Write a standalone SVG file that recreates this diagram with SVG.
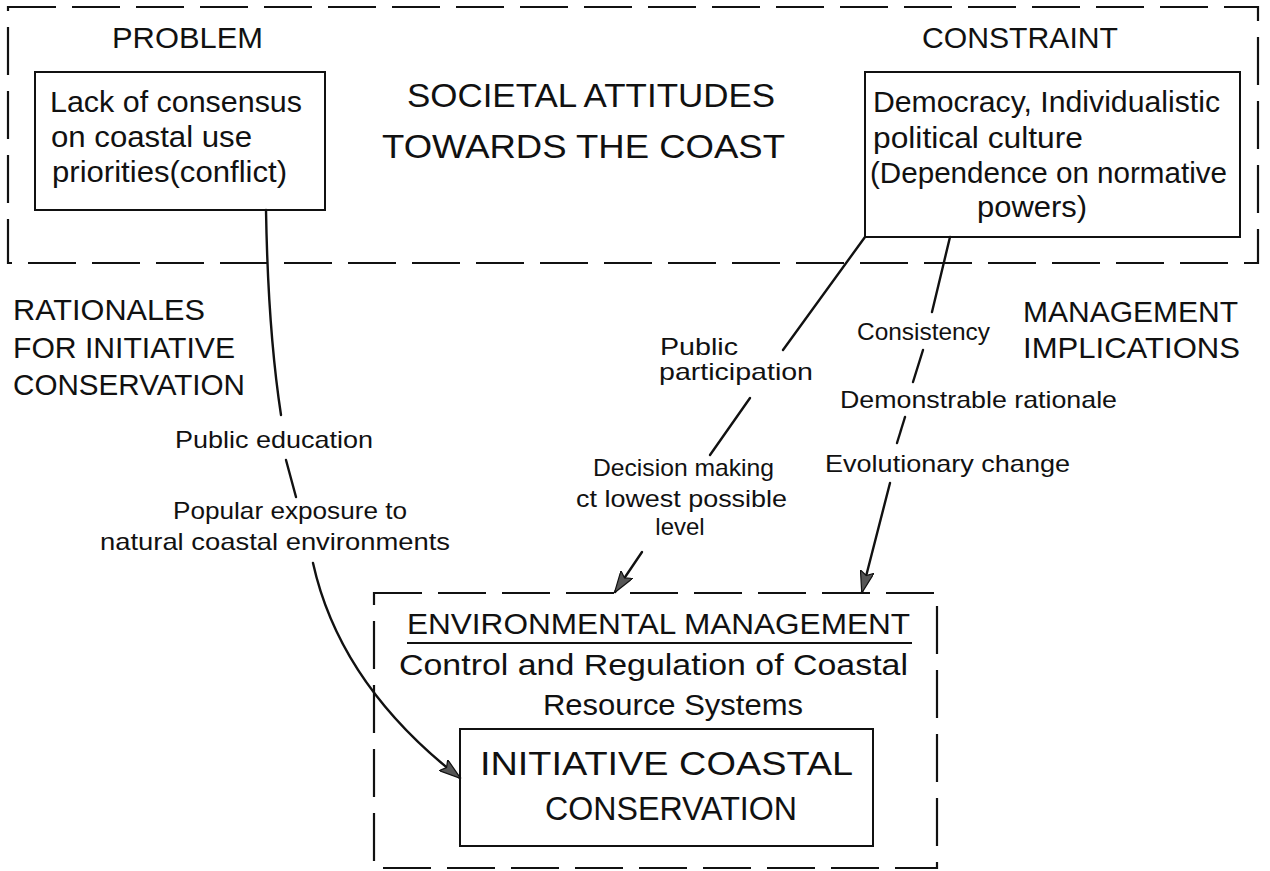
<svg xmlns="http://www.w3.org/2000/svg" width="1270" height="871" viewBox="0 0 1270 871">
  <style>
    text { font-family: "Liberation Sans", Arial, sans-serif; fill: #111; }
    .head { font-size: 29px; }
    .big { font-size: 33px; }
    .body { font-size: 29px; }
    .lab { font-size: 24px; }
    .box { fill: none; stroke: #111; stroke-width: 2; }
    .dash { fill: none; stroke: #111; stroke-width: 2.2; stroke-dasharray: 48 16; }
    .conn { fill: none; stroke: #111; stroke-width: 2.4; stroke-linecap: round; }
  </style>
  <defs>
    <marker id="arrow" viewBox="0 0 22 14" refX="21" refY="7" markerWidth="22" markerHeight="14" markerUnits="userSpaceOnUse" orient="auto">
      <path d="M0,0 L22,7 L0,14 L4,7 z" fill="#555" stroke="#111" stroke-width="1.2"/>
    </marker>
  </defs>
  <rect width="1270" height="871" fill="#fff"/>

  <!-- upper frame: societal attitudes -->
  <g id="societal-attitudes">
    <rect class="dash" x="8" y="7" width="1250" height="256"/>
    <text class="big" x="407" y="107" textLength="368" lengthAdjust="spacingAndGlyphs">SOCIETAL ATTITUDES</text>
    <text class="big" x="382" y="158" textLength="403" lengthAdjust="spacingAndGlyphs">TOWARDS THE  COAST</text>
  </g>

  <g id="problem">
    <text class="head" x="112" y="48" textLength="151" lengthAdjust="spacingAndGlyphs">PROBLEM</text>
    <rect class="box" x="35" y="72" width="290" height="138"/>
    <text class="body" x="50" y="112" textLength="252" lengthAdjust="spacingAndGlyphs">Lack of consensus</text>
    <text class="body" x="51" y="147" textLength="201" lengthAdjust="spacingAndGlyphs">on coastal use</text>
    <text class="body" x="52" y="182" textLength="235" lengthAdjust="spacingAndGlyphs">priorities(conflict)</text>
  </g>

  <g id="constraint">
    <text class="head" x="922" y="48" textLength="196" lengthAdjust="spacingAndGlyphs">CONSTRAINT</text>
    <rect class="box" x="865" y="72" width="375" height="165"/>
    <text class="body" x="873" y="112" textLength="347" lengthAdjust="spacingAndGlyphs">Democracy, Individualistic</text>
    <text class="body" x="873" y="148" textLength="210" lengthAdjust="spacingAndGlyphs">political culture</text>
    <text class="body" x="870" y="183" textLength="357" lengthAdjust="spacingAndGlyphs">(Dependence on normative</text>
    <text class="body" x="977" y="217" textLength="110" lengthAdjust="spacingAndGlyphs">powers)</text>
  </g>

  <g id="rationales">
    <text class="head" x="13" y="320" textLength="192" lengthAdjust="spacingAndGlyphs">RATIONALES</text>
    <text class="head" x="13" y="358" textLength="222" lengthAdjust="spacingAndGlyphs">FOR INITIATIVE</text>
    <text class="head" x="13" y="395" textLength="232" lengthAdjust="spacingAndGlyphs">CONSERVATION</text>
  </g>

  <g id="management-implications">
    <text class="head" x="1023" y="322" textLength="215" lengthAdjust="spacingAndGlyphs">MANAGEMENT</text>
    <text class="head" x="1023" y="358" textLength="217" lengthAdjust="spacingAndGlyphs">IMPLICATIONS</text>
  </g>

  <!-- lower frame: environmental management -->
  <g id="environmental-management">
    <rect class="dash" x="374" y="593" width="563" height="275"/>
    <text class="body" x="407" y="634" textLength="503" lengthAdjust="spacingAndGlyphs">ENVIRONMENTAL MANAGEMENT</text>
    <line x1="407" y1="643" x2="912" y2="643" stroke="#111" stroke-width="2"/>
    <text class="body" x="399" y="675" textLength="509" lengthAdjust="spacingAndGlyphs">Control and Regulation of  Coastal</text>
    <text class="body" x="543" y="715" textLength="260" lengthAdjust="spacingAndGlyphs">Resource Systems</text>
  </g>

  <g id="initiative-coastal-conservation">
    <rect class="box" x="460" y="729" width="413" height="117"/>
    <text class="big" x="480" y="775" textLength="373" lengthAdjust="spacingAndGlyphs">INITIATIVE  COASTAL</text>
    <text class="big" x="545" y="820" textLength="252" lengthAdjust="spacingAndGlyphs">CONSERVATION</text>
  </g>

  <!-- connectors and their labels -->
  <g id="connectors">
    <!-- problem to initiative conservation -->
    <path class="conn" d="M266,210 Q268,330 281,415"/>
    <path class="conn" d="M286,460 L296,497"/>
    <path class="conn" d="M313,563 Q340,685 460,778" marker-end="url(#arrow)"/>
    <text class="lab" x="175" y="448" textLength="198" lengthAdjust="spacingAndGlyphs">Public education</text>
    <text class="lab" x="173" y="519" textLength="234" lengthAdjust="spacingAndGlyphs">Popular exposure to</text>
    <text class="lab" x="100" y="550" textLength="350" lengthAdjust="spacingAndGlyphs">natural coastal environments</text>

    <!-- constraint to management: participation branch -->
    <path class="conn" d="M865,237 L783,350"/>
    <path class="conn" d="M750,398 L710,455"/>
    <path class="conn" d="M642,552 L615,592" marker-end="url(#arrow)"/>
    <text class="lab" x="660" y="355" textLength="78" lengthAdjust="spacingAndGlyphs">Public</text>
    <text class="lab" x="659" y="380" textLength="154" lengthAdjust="spacingAndGlyphs">participation</text>
    <text class="lab" x="593" y="476" textLength="181" lengthAdjust="spacingAndGlyphs">Decision making</text>
    <text class="lab" x="576" y="507" textLength="211" lengthAdjust="spacingAndGlyphs">ct lowest possible</text>
    <text class="lab" x="680" y="535" text-anchor="middle">level</text>

    <!-- constraint to management: consistency branch -->
    <path class="conn" d="M950,237 L932,312"/>
    <path class="conn" d="M923,350 L913,382"/>
    <path class="conn" d="M905,417 L897,443"/>
    <path class="conn" d="M890,483 L862,592" marker-end="url(#arrow)"/>
    <text class="lab" x="857" y="340" textLength="133" lengthAdjust="spacingAndGlyphs">Consistency</text>
    <text class="lab" x="840" y="408" textLength="277" lengthAdjust="spacingAndGlyphs">Demonstrable rationale</text>
    <text class="lab" x="825" y="472" textLength="245" lengthAdjust="spacingAndGlyphs">Evolutionary change</text>
  </g>
</svg>
